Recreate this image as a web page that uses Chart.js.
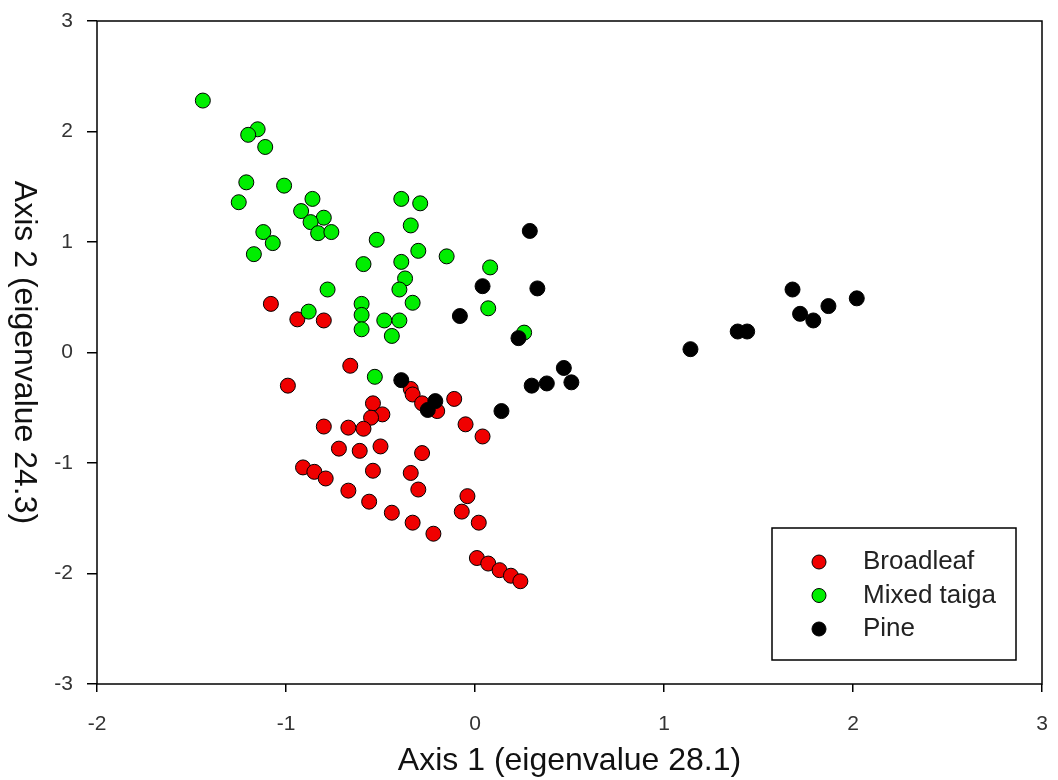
<!DOCTYPE html>
<html>
<head>
<meta charset="utf-8">
<script src="https://cdn.jsdelivr.net/npm/chart.js@4.4.0/dist/chart.umd.min.js"></script>
<style>
  html, body { margin: 0; padding: 0; background: #fff; }
</style>
</head>
<body>
<canvas id="chart" width="1058" height="780"></canvas>
<script>
// ordination scores, [axis 1, axis 2]
const seriesNames = ["Broadleaf", "Mixed taiga", "Pine"];

const broadleaf = [
  [-1.08, 0.44], [-0.94, 0.30], [-0.80, 0.29], [-0.66, -0.12], [-0.99, -0.30],
  [-0.34, -0.33], [-0.33, -0.38], [-0.28, -0.46], [-0.20, -0.53], [-0.11, -0.42],
  [-0.54, -0.46], [-0.49, -0.56], [-0.55, -0.59], [-0.80, -0.67], [-0.67, -0.68],
  [-0.59, -0.69], [-0.05, -0.65], [0.04, -0.76], [-0.72, -0.87], [-0.61, -0.89],
  [-0.50, -0.85], [-0.28, -0.91], [-0.91, -1.04], [-0.85, -1.08], [-0.79, -1.14],
  [-0.54, -1.07], [-0.34, -1.09], [-0.67, -1.25], [-0.30, -1.24], [-0.04, -1.30],
  [-0.56, -1.35], [-0.07, -1.44], [-0.44, -1.45], [-0.33, -1.54], [0.02, -1.54],
  [-0.22, -1.64], [0.01, -1.86], [0.07, -1.91], [0.13, -1.97], [0.19, -2.02],
  [0.24, -2.07]
];

const mixedTaiga = [
  [-1.44, 2.28], [-1.15, 2.02], [-1.20, 1.97], [-1.11, 1.86], [-1.21, 1.54],
  [-1.01, 1.51], [-1.25, 1.36], [-0.86, 1.39], [-0.92, 1.28], [-0.80, 1.22],
  [-0.87, 1.18], [-0.83, 1.08], [-0.76, 1.09], [-1.12, 1.09], [-1.07, 0.99],
  [-1.17, 0.89], [-0.52, 1.02], [-0.59, 0.80], [-0.39, 1.39], [-0.29, 1.35],
  [-0.34, 1.15], [-0.30, 0.92], [-0.15, 0.87], [-0.39, 0.82], [-0.37, 0.67],
  [-0.40, 0.57], [-0.33, 0.45], [-0.78, 0.57], [-0.60, 0.44], [-0.60, 0.34],
  [-0.60, 0.21], [-0.88, 0.37], [-0.48, 0.29], [-0.40, 0.29], [-0.44, 0.15],
  [0.08, 0.77], [0.07, 0.40], [0.26, 0.18], [-0.53, -0.22]
];

const pine = [
  [0.29, 1.10], [0.04, 0.60], [0.33, 0.58], [-0.08, 0.33], [0.23, 0.13],
  [-0.39, -0.25], [-0.21, -0.44], [-0.25, -0.52], [0.14, -0.53], [0.30, -0.30],
  [0.38, -0.28], [0.47, -0.14], [0.51, -0.27], [1.14, 0.03], [1.39, 0.19],
  [1.44, 0.19], [1.68, 0.57], [1.72, 0.35], [1.79, 0.29], [1.87, 0.42],
  [2.02, 0.49]
];

const xTicks = [-2, -1, 0, 1, 2, 3];
const yTicks = [-3, -2, -1, 0, 1, 2, 3];
const xTitle = "Axis 1 (eigenvalue 28.1)";
const yTitle = "Axis 2 (eigenvalue 24.3)";

const FONT = '"Liberation Sans", Arial, sans-serif';
const colors = ["#f00000", "#00ee00", "#000000"];

function toPoints(pairs) {
  return pairs.map(p => ({ x: p[0], y: p[1] }));
}

// box around the plot, clockwise y title and the inset legend
const framePlugin = {
  id: "frame",
  afterDraw(chart) {
    const ctx = chart.ctx;
    const a = chart.chartArea;
    ctx.save();
    ctx.strokeStyle = "#000";
    ctx.lineWidth = 1.5;
    ctx.strokeRect(a.left, a.top, a.right - a.left, a.bottom - a.top);

    // y title reads top to bottom
    ctx.save();
    ctx.font = "32px " + FONT;
    ctx.fillStyle = "#111";
    ctx.textAlign = "center";
    ctx.textBaseline = "middle";
    ctx.translate(24, (a.top + a.bottom) / 2);
    ctx.rotate(Math.PI / 2);
    ctx.fillText(yTitle, 0, 0);
    ctx.restore();

    // legend
    const bx = a.right - 270, by = a.bottom - 156, bw = 244, bh = 132;
    ctx.fillStyle = "#fff";
    ctx.fillRect(bx, by, bw, bh);
    ctx.strokeRect(bx, by, bw, bh);
    ctx.font = "26px " + FONT;
    ctx.textAlign = "left";
    ctx.textBaseline = "middle";
    chart.data.datasets.forEach((ds, i) => {
      const cy = by + 34 + i * 33.5;
      ctx.beginPath();
      ctx.arc(bx + 47, cy, 7, 0, Math.PI * 2);
      ctx.fillStyle = ds.backgroundColor;
      ctx.fill();
      ctx.lineWidth = 1;
      ctx.strokeStyle = "#000";
      ctx.stroke();
      ctx.fillStyle = "#222";
      ctx.fillText(ds.label, bx + 91, cy);
    });
    ctx.restore();
  }
};

const ctx = document.getElementById("chart").getContext("2d");
new Chart(ctx, {
  type: "scatter",
  data: {
    datasets: [
      { label: seriesNames[0], data: toPoints(broadleaf), backgroundColor: colors[0], order: 2 },
      { label: seriesNames[1], data: toPoints(mixedTaiga), backgroundColor: colors[1], order: 1 },
      { label: seriesNames[2], data: toPoints(pine), backgroundColor: colors[2], order: 0 }
    ]
  },
  options: {
    responsive: false,
    animation: false,
    layout: { padding: { top: 21, right: 16, bottom: 0, left: 0 } },
    elements: {
      point: { radius: 7.5, borderWidth: 1, borderColor: "#000", pointStyle: "circle" }
    },
    plugins: {
      legend: { display: false },
      tooltip: { enabled: false }
    },
    scales: {
      x: {
        type: "linear",
        min: -2,
        max: 3,
        afterBuildTicks: s => { s.ticks = xTicks.map(v => ({ value: v })); },
        afterFit: s => { s.height = 96; s.paddingLeft = 0; s.paddingRight = 0; },
        grid: { drawOnChartArea: false, drawTicks: true, tickLength: 8, color: "#000", lineWidth: 1.5 },
        border: { display: false },
        ticks: { padding: 20, color: "#333", font: { family: FONT, size: 21 } },
        title: {
          display: true,
          text: xTitle,
          color: "#111",
          font: { family: FONT, size: 32 },
          padding: { top: 0, bottom: 0 }
        }
      },
      y: {
        type: "linear",
        min: -3,
        max: 3,
        afterBuildTicks: s => { s.ticks = yTicks.map(v => ({ value: v })); },
        afterFit: s => { s.width = 97; s.paddingTop = 0; s.paddingBottom = 0; },
        grid: { drawOnChartArea: false, drawTicks: true, tickLength: 10, color: "#000", lineWidth: 1.5 },
        border: { display: false },
        ticks: { padding: 14, color: "#333", font: { family: FONT, size: 21 } }
      }
    }
  },
  plugins: [framePlugin]
});
</script>
</body>
</html>
